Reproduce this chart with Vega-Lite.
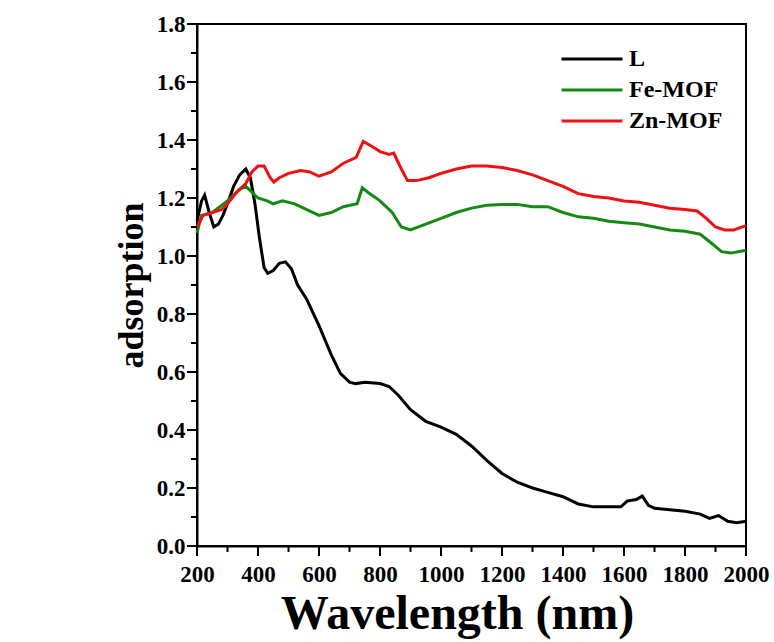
{
  "$schema": "https://vega.github.io/schema/vega-lite/v6.json",
  "width": 549,
  "height": 522,
  "autosize": {"type": "none"},
  "padding": {"left": 197, "top": 24, "right": 28, "bottom": 96},
  "background": "white",
  "config": {
    "view": {"stroke": "black", "strokeWidth": 2},
    "font": "Liberation Serif"
  },
  "datasets": {
    "curves": [
    {"s":"L","w":200,"a":1.12},{"s":"L","w":215,"a":1.19},{"s":"L","w":225,"a":1.21},{"s":"L","w":240,"a":1.15},{"s":"L","w":255,"a":1.10},{"s":"L","w":270,"a":1.11},{"s":"L","w":285,"a":1.14},{"s":"L","w":300,"a":1.18},{"s":"L","w":320,"a":1.24},{"s":"L","w":340,"a":1.28},{"s":"L","w":360,"a":1.30},{"s":"L","w":375,"a":1.27},{"s":"L","w":390,"a":1.18},{"s":"L","w":405,"a":1.06},{"s":"L","w":420,"a":0.96},{"s":"L","w":432,"a":0.94},{"s":"L","w":450,"a":0.95},{"s":"L","w":470,"a":0.975},{"s":"L","w":490,"a":0.98},{"s":"L","w":510,"a":0.955},{"s":"L","w":530,"a":0.90},{"s":"L","w":560,"a":0.85},{"s":"L","w":600,"a":0.76},{"s":"L","w":640,"a":0.66},{"s":"L","w":670,"a":0.595},{"s":"L","w":700,"a":0.565},{"s":"L","w":720,"a":0.56},{"s":"L","w":750,"a":0.565},{"s":"L","w":800,"a":0.56},{"s":"L","w":830,"a":0.55},{"s":"L","w":860,"a":0.52},{"s":"L","w":900,"a":0.47},{"s":"L","w":950,"a":0.43},{"s":"L","w":1000,"a":0.41},{"s":"L","w":1050,"a":0.385},{"s":"L","w":1100,"a":0.345},{"s":"L","w":1150,"a":0.295},{"s":"L","w":1200,"a":0.25},{"s":"L","w":1250,"a":0.22},{"s":"L","w":1300,"a":0.20},{"s":"L","w":1350,"a":0.185},{"s":"L","w":1400,"a":0.17},{"s":"L","w":1450,"a":0.145},{"s":"L","w":1500,"a":0.135},{"s":"L","w":1550,"a":0.135},{"s":"L","w":1590,"a":0.135},{"s":"L","w":1610,"a":0.155},{"s":"L","w":1640,"a":0.16},{"s":"L","w":1660,"a":0.172},{"s":"L","w":1680,"a":0.14},{"s":"L","w":1700,"a":0.13},{"s":"L","w":1750,"a":0.125},{"s":"L","w":1800,"a":0.12},{"s":"L","w":1850,"a":0.11},{"s":"L","w":1880,"a":0.095},{"s":"L","w":1910,"a":0.105},{"s":"L","w":1940,"a":0.085},{"s":"L","w":1970,"a":0.08},{"s":"L","w":2000,"a":0.085},
    {"s":"Fe-MOF","w":200,"a":1.08},{"s":"Fe-MOF","w":215,"a":1.14},{"s":"Fe-MOF","w":250,"a":1.15},{"s":"Fe-MOF","w":300,"a":1.19},{"s":"Fe-MOF","w":340,"a":1.23},{"s":"Fe-MOF","w":360,"a":1.24},{"s":"Fe-MOF","w":380,"a":1.22},{"s":"Fe-MOF","w":400,"a":1.20},{"s":"Fe-MOF","w":430,"a":1.19},{"s":"Fe-MOF","w":450,"a":1.18},{"s":"Fe-MOF","w":480,"a":1.19},{"s":"Fe-MOF","w":520,"a":1.18},{"s":"Fe-MOF","w":560,"a":1.16},{"s":"Fe-MOF","w":600,"a":1.14},{"s":"Fe-MOF","w":640,"a":1.15},{"s":"Fe-MOF","w":680,"a":1.17},{"s":"Fe-MOF","w":725,"a":1.18},{"s":"Fe-MOF","w":742,"a":1.235},{"s":"Fe-MOF","w":760,"a":1.22},{"s":"Fe-MOF","w":800,"a":1.19},{"s":"Fe-MOF","w":840,"a":1.15},{"s":"Fe-MOF","w":870,"a":1.10},{"s":"Fe-MOF","w":900,"a":1.09},{"s":"Fe-MOF","w":950,"a":1.11},{"s":"Fe-MOF","w":1000,"a":1.13},{"s":"Fe-MOF","w":1050,"a":1.15},{"s":"Fe-MOF","w":1100,"a":1.165},{"s":"Fe-MOF","w":1150,"a":1.175},{"s":"Fe-MOF","w":1200,"a":1.178},{"s":"Fe-MOF","w":1250,"a":1.178},{"s":"Fe-MOF","w":1300,"a":1.17},{"s":"Fe-MOF","w":1350,"a":1.17},{"s":"Fe-MOF","w":1400,"a":1.15},{"s":"Fe-MOF","w":1450,"a":1.135},{"s":"Fe-MOF","w":1500,"a":1.13},{"s":"Fe-MOF","w":1550,"a":1.12},{"s":"Fe-MOF","w":1600,"a":1.115},{"s":"Fe-MOF","w":1650,"a":1.11},{"s":"Fe-MOF","w":1700,"a":1.10},{"s":"Fe-MOF","w":1750,"a":1.09},{"s":"Fe-MOF","w":1800,"a":1.085},{"s":"Fe-MOF","w":1850,"a":1.075},{"s":"Fe-MOF","w":1880,"a":1.05},{"s":"Fe-MOF","w":1920,"a":1.015},{"s":"Fe-MOF","w":1950,"a":1.01},{"s":"Fe-MOF","w":2000,"a":1.02},
    {"s":"Zn-MOF","w":200,"a":1.10},{"s":"Zn-MOF","w":220,"a":1.14},{"s":"Zn-MOF","w":250,"a":1.15},{"s":"Zn-MOF","w":280,"a":1.16},{"s":"Zn-MOF","w":300,"a":1.18},{"s":"Zn-MOF","w":330,"a":1.22},{"s":"Zn-MOF","w":360,"a":1.25},{"s":"Zn-MOF","w":380,"a":1.29},{"s":"Zn-MOF","w":400,"a":1.31},{"s":"Zn-MOF","w":420,"a":1.31},{"s":"Zn-MOF","w":440,"a":1.27},{"s":"Zn-MOF","w":452,"a":1.255},{"s":"Zn-MOF","w":470,"a":1.27},{"s":"Zn-MOF","w":500,"a":1.285},{"s":"Zn-MOF","w":540,"a":1.295},{"s":"Zn-MOF","w":570,"a":1.29},{"s":"Zn-MOF","w":600,"a":1.275},{"s":"Zn-MOF","w":640,"a":1.29},{"s":"Zn-MOF","w":680,"a":1.32},{"s":"Zn-MOF","w":722,"a":1.34},{"s":"Zn-MOF","w":745,"a":1.395},{"s":"Zn-MOF","w":770,"a":1.38},{"s":"Zn-MOF","w":800,"a":1.36},{"s":"Zn-MOF","w":830,"a":1.35},{"s":"Zn-MOF","w":845,"a":1.355},{"s":"Zn-MOF","w":870,"a":1.30},{"s":"Zn-MOF","w":890,"a":1.26},{"s":"Zn-MOF","w":920,"a":1.26},{"s":"Zn-MOF","w":960,"a":1.27},{"s":"Zn-MOF","w":1000,"a":1.285},{"s":"Zn-MOF","w":1050,"a":1.30},{"s":"Zn-MOF","w":1100,"a":1.31},{"s":"Zn-MOF","w":1150,"a":1.31},{"s":"Zn-MOF","w":1200,"a":1.305},{"s":"Zn-MOF","w":1250,"a":1.295},{"s":"Zn-MOF","w":1300,"a":1.28},{"s":"Zn-MOF","w":1350,"a":1.26},{"s":"Zn-MOF","w":1400,"a":1.24},{"s":"Zn-MOF","w":1450,"a":1.215},{"s":"Zn-MOF","w":1500,"a":1.205},{"s":"Zn-MOF","w":1550,"a":1.20},{"s":"Zn-MOF","w":1600,"a":1.19},{"s":"Zn-MOF","w":1650,"a":1.185},{"s":"Zn-MOF","w":1700,"a":1.175},{"s":"Zn-MOF","w":1750,"a":1.165},{"s":"Zn-MOF","w":1800,"a":1.16},{"s":"Zn-MOF","w":1840,"a":1.155},{"s":"Zn-MOF","w":1870,"a":1.13},{"s":"Zn-MOF","w":1900,"a":1.10},{"s":"Zn-MOF","w":1930,"a":1.09},{"s":"Zn-MOF","w":1960,"a":1.09},{"s":"Zn-MOF","w":2000,"a":1.105}
    ],
    "xmajor": [{"v":200},{"v":400},{"v":600},{"v":800},{"v":1000},{"v":1200},{"v":1400},{"v":1600},{"v":1800},{"v":2000}],
    "xminor": [{"v":300},{"v":500},{"v":700},{"v":900},{"v":1100},{"v":1300},{"v":1500},{"v":1700},{"v":1900}],
    "ymajor": [{"v":0},{"v":0.2},{"v":0.4},{"v":0.6},{"v":0.8},{"v":1.0},{"v":1.2},{"v":1.4},{"v":1.6},{"v":1.8}],
    "yminor": [{"v":0.1},{"v":0.3},{"v":0.5},{"v":0.7},{"v":0.9},{"v":1.1},{"v":1.3},{"v":1.5},{"v":1.7}]
  },
  "layer": [
    {
      "data": {"name": "curves"},
      "mark": {"type": "line", "strokeWidth": 3},
      "encoding": {
        "x": {"field": "w", "type": "quantitative", "scale": {"domain": [200, 2000], "nice": false},
              "axis": {"values": [200,400,600,800,1000,1200,1400,1600,1800,2000], "grid": false, "ticks": false, "domainColor": "#000000", "domainWidth": 2, "labelFont": "Liberation Serif", "labelFontWeight": "bold", "labelFontSize": 23, "labelColor": "black", "labelFlush": false, "labelPadding": 17, "title": "Wavelength (nm)", "titleFont": "Liberation Serif", "titleFontWeight": "bold", "titleColor": "black", "titleFontSize": 48, "titlePadding": 4, "titleX": 260, "format": "d"}},
        "y": {"field": "a", "type": "quantitative", "scale": {"domain": [0, 1.8], "nice": false},
              "axis": {"values": [0,0.2,0.4,0.6,0.8,1.0,1.2,1.4,1.6,1.8], "grid": false, "ticks": false, "domainColor": "#000000", "domainWidth": 2, "labelFont": "Liberation Serif", "labelFontWeight": "bold", "labelFontSize": 23, "labelColor": "black", "labelFlush": false, "labelPadding": 12, "format": ".1f", "title": "adsorption", "titleFont": "Liberation Serif", "titleFontWeight": "bold", "titleColor": "black", "titleFontSize": 36, "titlePadding": 6}},
        "color": {"field": "s", "type": "nominal", "sort": ["L", "Fe-MOF", "Zn-MOF"],
                  "scale": {"domain": ["L", "Fe-MOF", "Zn-MOF"], "range": ["#000000", "#138a13", "#ee1111"]},
                  "legend": {"title": null, "orient": "none", "legendX": 378, "legendY": 18, "symbolType": "M-2,0H2", "symbolSize": 930, "symbolStrokeWidth": 3, "labelFont": "Liberation Serif", "labelFontWeight": "bold", "labelFontSize": 24, "labelColor": "black", "rowPadding": 2, "labelOffset": 20}}
      }
    },
    {
      "data": {"name": "xmajor"},
      "mark": {"type": "tick", "orient": "vertical", "color": "black", "size": 10, "thickness": 2, "opacity": 1, "clip": false},
      "encoding": {"x": {"field": "v", "type": "quantitative"}, "y": {"datum": -0.017}}
    },
    {
      "data": {"name": "xminor"},
      "mark": {"type": "tick", "orient": "vertical", "color": "black", "size": 6, "thickness": 2, "opacity": 1, "clip": false},
      "encoding": {"x": {"field": "v", "type": "quantitative"}, "y": {"datum": -0.0103}}
    },
    {
      "data": {"name": "ymajor"},
      "mark": {"type": "tick", "orient": "horizontal", "color": "black", "size": 10, "thickness": 2, "opacity": 1, "clip": false},
      "encoding": {"y": {"field": "v", "type": "quantitative"}, "x": {"datum": 183.6}}
    },
    {
      "data": {"name": "yminor"},
      "mark": {"type": "tick", "orient": "horizontal", "color": "black", "size": 6, "thickness": 2, "opacity": 1, "clip": false},
      "encoding": {"y": {"field": "v", "type": "quantitative"}, "x": {"datum": 190.2}}
    }
  ]
}
